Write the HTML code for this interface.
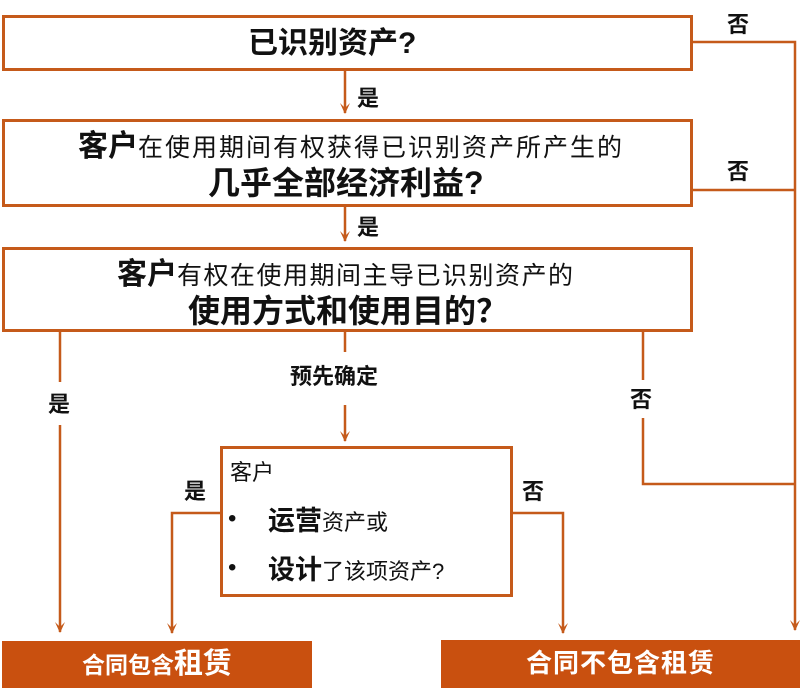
<!DOCTYPE html>
<html><head><meta charset="utf-8"><style>
body{margin:0;width:800px;height:690px;background:#fff;position:relative;overflow:hidden;font-family:"Liberation Sans","Noto Sans CJK SC",sans-serif;color:#111}
.b{position:absolute;border:3px solid #c55a1a;box-sizing:border-box;background:#fff}
.t{position:absolute;white-space:nowrap;line-height:1.2}
.l{font-size:22px;font-weight:bold}
.f{position:absolute;background:#c9500f;color:#fff;font-weight:bold;text-align:center;line-height:47px}
</style></head><body>
<svg width="800" height="690" style="position:absolute;left:0;top:0">
<defs><marker id="d" markerWidth="12" markerHeight="12" refX="6" refY="10" orient="0" markerUnits="userSpaceOnUse"><path d="M1,0 L6,11 L11,0 L6,5 Z" fill="#c55a1a"/></marker></defs>
<g stroke="#c55a1a" stroke-width="2.5" fill="none">
<path d="M692,42 H795 V630" marker-end="url(#d)"/>
<path d="M692,190 H795"/>
<path d="M345,70 V113" marker-end="url(#d)"/>
<path d="M345,205 V241" marker-end="url(#d)"/>
<path d="M60,330 V382 M60,425 V632" marker-end="url(#d)"/>
<path d="M345,330 V352 M345,405 V441" marker-end="url(#d)"/>
<path d="M643,330 V380 M643,418 V484 H795"/>
<path d="M221,513 H172 V633" marker-end="url(#d)"/>
<path d="M512,513 H563 V633" marker-end="url(#d)"/>
</g></svg>
<div class="b" style="left:2px;top:15px;width:691px;height:56px"></div>
<div class="t" style="left:248px;top:26px;font-size:30px;font-weight:bold">已识别资产?</div>
<div class="b" style="left:2px;top:119px;width:691px;height:88px"></div>
<div class="t" style="left:78px;top:129px;font-size:25px;letter-spacing:2px"><b style="font-size:30px;letter-spacing:0">客户</b>在使用期间有权获得已识别资产所产生的</div>
<div class="t" style="left:208px;top:164px;font-size:32px;font-weight:bold">几乎全部经济利益?</div>
<div class="b" style="left:2px;top:247px;width:691px;height:85px"></div>
<div class="t" style="left:117px;top:257px;font-size:25px;letter-spacing:1.5px"><b style="font-size:30px;letter-spacing:0">客户</b>有权在使用期间主导已识别资产的</div>
<div class="t" style="left:188px;top:292px;font-size:32px;font-weight:bold">使用方式和使用目的？</div>
<div class="t l" style="left:357px;top:86px">是</div>
<div class="t l" style="left:357px;top:215px">是</div>
<div class="t l" style="left:727px;top:12px">否</div>
<div class="t l" style="left:727px;top:159px">否</div>
<div class="t l" style="left:48px;top:392px">是</div>
<div class="t l" style="left:290px;top:364px">预先确定</div>
<div class="t l" style="left:630px;top:387px">否</div>
<div class="t l" style="left:184px;top:479px">是</div>
<div class="t l" style="left:522px;top:479px">否</div>
<div class="b" style="left:220px;top:446px;width:293px;height:151px"></div>
<div class="t" style="left:230px;top:460px;font-size:22px">客户</div>
<div class="t" style="left:228px;top:505px;font-size:24px">•</div>
<div class="t" style="left:268px;top:505px;font-size:22px"><b style="font-size:27px">运营</b>资产或</div>
<div class="t" style="left:228px;top:554px;font-size:24px">•</div>
<div class="t" style="left:268px;top:554px;font-size:22px"><b style="font-size:27px">设计</b>了该项资产?</div>
<div class="f" style="left:2px;top:641px;width:310px;height:47px"><span style="font-size:23px">合同包含</span><span style="font-size:29px">租赁</span></div>
<div class="f" style="left:441px;top:640px;width:359px;height:48px;font-size:26px;letter-spacing:1px">合同不包含租赁</div>
</body></html>
